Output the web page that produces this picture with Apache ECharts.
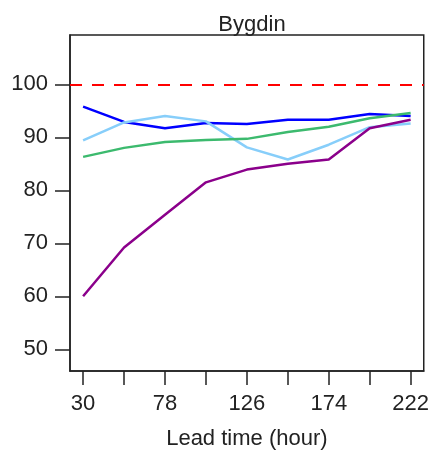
<!DOCTYPE html>
<html>
<head>
<meta charset="utf-8">
<script src="https://cdn.jsdelivr.net/npm/echarts@6/dist/echarts.min.js"></script>
<style>html,body{margin:0;padding:0;background:#fff;}#c{width:432px;height:455px;}</style>
</head>
<body>
<div id="c"></div>
<script>
var title = "Bygdin";
var xName = "Lead time (hour)";
var leadTimes = [30, 54, 78, 102, 126, 150, 174, 198, 222];
var xTickValues = [30, 54, 78, 102, 126, 150, 174, 198, 222];
var xLabelValues = [30, 78, 126, 174, 222];
var yTickValues = [50, 60, 70, 80, 90, 100];
var refLine = 100;
var seriesBlue = [95.8, 92.9, 91.7, 92.7, 92.5, 93.3, 93.3, 94.4, 94.0];
var seriesLightBlue = [89.4, 92.8, 94.0, 93.0, 88.1, 85.8, 88.6, 91.9, 92.6];
var seriesGreen = [86.3, 88.0, 89.1, 89.5, 89.7, 91.0, 92.0, 93.6, 94.6];
var seriesPurple = [60.0, 69.2, 75.4, 81.5, 83.9, 85.0, 85.8, 91.7, 93.3];

var colors = ['#0000ff', '#87cefa', '#3cba6e', '#8b008b'];
var allSeries = [seriesBlue, seriesLightBlue, seriesGreen, seriesPurple];

function pairs(arr) { return leadTimes.map(function (t, i) { return [t, arr[i]]; }); }

var font = 'Liberation Sans, Arial, sans-serif';
var txt = '#222';
var series = allSeries.map(function (s, i) {
  return {
    type: 'line', data: pairs(s), symbol: 'none', silent: true,
    lineStyle: { color: colors[i], width: 2.5 }, z: 3 + i
  };
});
series.push({
  type: 'line', data: [], silent: true,
  markLine: {
    silent: true, symbol: 'none', label: { show: false },
    lineStyle: { color: '#ff0000', type: [12, 10], width: 2 },
    data: [{ yAxis: refLine }]
  }
});

var chart = echarts.init(document.getElementById('c'), null, { renderer: 'canvas' });
chart.setOption({
  animation: false,
  backgroundColor: '#ffffff',
  title: {
    text: title, left: 247, textAlign: 'center', top: 9,
    textStyle: { fontFamily: font, fontSize: 22, fontWeight: 'normal', color: txt }
  },
  grid: { left: 70, right: 8, top: 35, bottom: 84, show: true, borderColor: '#222', borderWidth: 1.5, backgroundColor: 'transparent' },
  xAxis: {
    type: 'value', min: 22.32, max: 229.68,
    name: xName, nameLocation: 'middle', nameGap: 57,
    nameTextStyle: { fontFamily: font, fontSize: 22, color: txt },
    axisLine: { show: true, lineStyle: { color: '#222', width: 1.5 } },
    axisTick: { show: true, inside: false, length: 14, customValues: xTickValues, lineStyle: { color: '#222', width: 1.5 } },
    axisLabel: { customValues: xLabelValues, margin: 22, fontFamily: font, fontSize: 22, color: txt },
    splitLine: { show: false }
  },
  yAxis: {
    type: 'value', min: 45.9, max: 109.3,
    axisLine: { show: true, lineStyle: { color: '#222', width: 1.5 } },
    axisTick: { show: true, inside: false, length: 15, customValues: yTickValues, lineStyle: { color: '#222', width: 1.5 } },
    axisLabel: { customValues: yTickValues, margin: 22, fontFamily: font, fontSize: 22, color: txt },
    splitLine: { show: false }
  },
  series: series
});
</script>
</body>
</html>
